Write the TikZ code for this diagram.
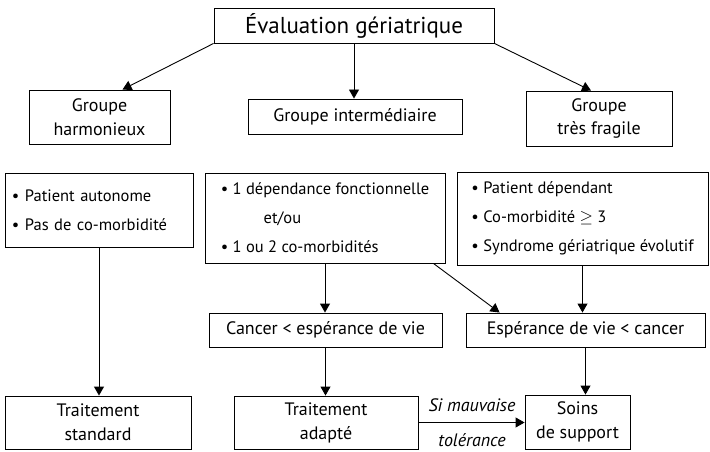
\documentclass[tikz,border=0pt]{standalone}
\usepackage{fontspec}
\setmainfont{PT Sans}
\usetikzlibrary{arrows.meta}

\begin{document}
\begin{tikzpicture}[x=1pt,y=-1pt,
  box/.style={draw,line width=0.9pt,inner sep=0pt,align=center,font=\fontsize{18}{24}\selectfont},
  list/.style={box,align=left,font=\fontsize{16.5}{29}\selectfont},
  arr/.style={-{Triangle[length=9pt,width=10pt]},line width=0.9pt}]
  \useasboundingbox (0,0) rectangle (710,452);
  % evaluation and the three groups
  \node[box,minimum width=280,minimum height=35,font=\fontsize{23}{26}\selectfont] (eval) at (354,25.5) {Évaluation gériatrique};
  \node[box,minimum width=141,minimum height=54] (harm) at (99.5,117) {Groupe\\harmonieux};
  \node[box,minimum width=214,minimum height=35] (inter) at (355,116.5) {Groupe intermédiaire};
  \node[box,minimum width=146,minimum height=55] (frag) at (599,118.5) {Groupe\\très fragile};
  % criteria
  \node[list,inner xsep=7pt,text width=174,minimum height=74] (crit1) at (99,210) {\textbullet\ Patient autonome\\\textbullet\ Pas de co-morbidité};
  \node[list,minimum width=240,minimum height=90] (crit2) at (325,218) {\textbullet\ 1 dépendance fonctionnelle\\\hspace*{2.6em}et/ou\\\textbullet\ 1 ou 2 co-morbidités};
  \node[list,minimum width=251,minimum height=93] (crit3) at (582.5,218.5) {\textbullet\ Patient dépendant\\\textbullet\ Co-morbidité $\geq$ 3\\\textbullet\ Syndrome gériatrique évolutif};
  % prognosis
  \node[box,minimum width=233,minimum height=34] (canc) at (325.5,330) {Cancer < espérance de vie};
  \node[box,minimum width=239,minimum height=34] (esp) at (585.5,330) {Espérance de vie < cancer};
  % treatments
  \node[box,minimum width=186,minimum height=53] (std) at (98,422.5) {Traitement\\standard};
  \node[box,minimum width=184,minimum height=53] (adap) at (326,422.5) {Traitement\\adapté};
  \node[box,minimum width=105,minimum height=54] (soins) at (577.5,422) {Soins\\de support};
  \node[font=\fontsize{18}{20}\selectfont\itshape] (si) at (472,405) {Si mauvaise};
  \node[font=\fontsize{18}{20}\selectfont\itshape] (tol) at (472,440) {tolérance};

  \draw[arr] (eval.south west) -- ([xshift=23pt]harm.north);
  \draw[arr] (eval.south) -- (eval.south |- inter.north);
  \draw[arr] (eval.south east) -- ([xshift=-8pt]frag.north);
  \draw[arr] (crit1.south) -- (crit1.south |- std.north);
  \draw[arr] (crit2.south) -- (crit2.south |- canc.north);
  \draw[arr] ([xshift=-12pt]crit2.south east) -- ([xshift=34pt]esp.north west);
  \draw[arr] (crit3.south) -- (crit3.south |- esp.north);
  \draw[arr] (canc.south) -- (canc.south |- adap.north);
  \draw[arr] (esp.south) -- (esp.south |- soins.north);
  \draw[arr] (adap.east) -- (adap.east -| soins.west);
\end{tikzpicture}
\end{document}
